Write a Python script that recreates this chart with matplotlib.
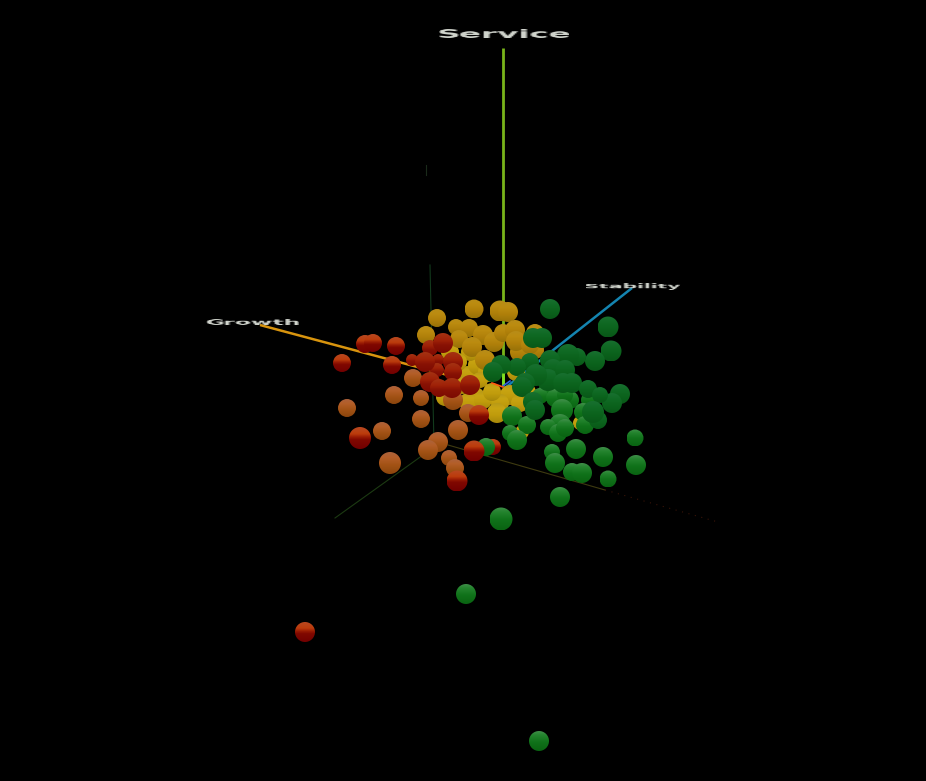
import numpy as np
import matplotlib
matplotlib.use("Agg")
import matplotlib.pyplot as plt
from matplotlib.colors import LinearSegmentedColormap
from matplotlib.patches import Circle

# Projected positions and sizes (x, y, radius in image pixels)
yellow_x = [468,478,488,480,475,468,483,510,500,520,497,522,580,450,462,445,470,492,528,516,458]
yellow_y = [375,365,372,380,397,402,400,395,403,403,413,432,423,352,385,397,352,392,392,372,362]
yellow_r = [9,10,10,8,10,9,9,10,9,9,10,7,7,9,9,9,9,9,8,9,9]

amber_x = [474,437,426,456,469,459,500,508,483,472,485,535,535,520,494,503,515,516,530]
amber_y = [309,318,335,327,328,339,311,312,335,347,360,333,350,352,342,333,330,341,345]
amber_r = [9.5,9,9,8,9,9,10.5,10,10,10,10,9,9,10,10,9,10,10,9]

orange_x = [394,421,347,421,382,458,438,428,390,449,455,453,468,413]
orange_y = [395,398,408,419,431,430,442,450,463,458,468,400,413,378]
orange_r = [9,8,9,9,9,10,10,10,11,8,9,10,9,9]

red_x = [365,373,396,342,392,479,360,493,457,305]
red_y = [344,343,346,363,365,415,438,447,481,632]
red_r = [9,9,9,9,9,10,11,8,10.5,10]

deep_red_x = [430,443,412,438,437,453,453,425,430,439,452,470]
deep_red_y = [348,343,360,360,370,362,372,362,382,388,388,385]
deep_red_r = [8,10,6,6,7,10,9,10,10,9,10,10]

light_green_x = [547,540,555,570,590,565,562,560,512,527,548,558,583,585,565,510,517,635,576,552,603,555,636,572,582,608,560,486,501,466,539]
light_green_y = [392,396,398,400,400,395,410,425,416,425,427,433,412,425,428,433,440,438,449,452,457,463,465,472,473,479,497,447,519,594,741]
light_green_r = [9,8,9,9,9,8,11,11,10,9,8,9,9,9,9,8,10,8.5,10,8,10,10,10,9,10,8.5,10,9,11.5,10,10]

dark_green_x = [550,608,611,595,533,542,577,568,550,530,553,548,517,501,493,536,565,563,572,525,522,588,620,612,600,533,535,598,593]
dark_green_y = [309,327,351,361,338,338,357,355,360,362,369,380,367,365,372,375,370,383,383,383,387,389,394,403,395,402,410,420,412]
dark_green_r = [10,10.5,10.5,10,10,10,9,11,10,9,10,11,9,10,10,11,10,10,10,10,10,9,10,10,8,10,10,9,11]

front_red_x = [474]
front_red_y = [451]
front_red_r = [10.5]

axis_names = ["Service", "Growth", "Stability"]
service_axis = ([503, 503], [48, 385])
growth_axis = ([260, 500], [325, 389])
stability_axis = ([632, 505], [288, 388])

W, H = 926, 781
fig = plt.figure(figsize=(W / 100, H / 100), dpi=100, facecolor="black")
ax = fig.add_axes([0, 0, 1, 1], facecolor="black")
ax.set_axis_off()

# Faint grid traces of the scene
for xs, ys, c, lw, ls in [
    ([335, 430], [518, 450], "#1c3a12", 0.8, "-"),
    ([430, 434], [265, 445], "#123a1c", 0.8, "-"),
    ([426, 426], [165, 175], "#1a2a1a", 0.8, "-"),
    ([448, 605], [445, 490], "#3e3a10", 0.8, "-"),
    ([605, 718], [490, 522], "#3a1408", 0.8, (0, (1, 5))),
]:
    ax.plot(xs, ys, color=c, lw=lw, ls=ls, zorder=1)

ax.plot(*service_axis, color="#79b41a", lw=2, zorder=2, solid_capstyle="butt")
ax.plot(*growth_axis, color="#d8940e", lw=1.8, zorder=2, solid_capstyle="butt")
ax.plot(*stability_axis, color="#1484b0", lw=1.8, zorder=2, solid_capstyle="butt")


def make_cmap(stops):
    return LinearSegmentedColormap.from_list("s", stops)


cm_yellow = make_cmap([(0, "#b89a18"), (.25, "#c8a412"), (.6, "#c09c0c"), (1, "#a8880a")])
cm_amber = make_cmap([(0, "#b88c18"), (.25, "#bc8c10"), (.6, "#b0800a"), (1, "#987208")])
cm_orange = make_cmap([(0, "#ac623a"), (.25, "#b45e28"), (.6, "#a25214"), (1, "#8c460e")])
cm_red = make_cmap([(0, "#b84820"), (.3, "#bc3c0c"), (.46, "#981a04"), (.58, "#800800"), (1, "#720000")])
cm_deep_red = make_cmap([(0, "#a43212"), (.35, "#a02208"), (.6, "#881204"), (1, "#7c0a02")])
cm_light_green = make_cmap([(0, "#3e8e48"), (.2, "#24842e"), (.55, "#10721a"), (1, "#0a6412")])
cm_dark_green = make_cmap([(0, "#187030"), (.3, "#106a24"), (.65, "#0b621c"), (1, "#095818")])
grad = np.linspace(0, 1, 32).reshape(-1, 1)
z = [10]


def spheres(xs, ys, rs, cmap):
    for x, y, r in zip(xs, ys, rs):
        im = ax.imshow(grad, cmap=cmap, vmin=0, vmax=1, extent=(x - r, x + r, y + r, y - r),
                       origin="upper", aspect="auto", interpolation="bilinear", zorder=z[0])
        c = Circle((x, y), r, transform=ax.transData, facecolor="none", edgecolor="none")
        ax.add_patch(c)
        im.set_clip_path(c)
        z[0] += 1


spheres(yellow_x, yellow_y, yellow_r, cm_yellow)
spheres(amber_x, amber_y, amber_r, cm_amber)
spheres(orange_x, orange_y, orange_r, cm_orange)
spheres(red_x, red_y, red_r, cm_red)
spheres(deep_red_x, deep_red_y, deep_red_r, cm_deep_red)
spheres(light_green_x, light_green_y, light_green_r, cm_light_green)
spheres(dark_green_x, dark_green_y, dark_green_r, cm_dark_green)
spheres(front_red_x, front_red_y, front_red_r, cm_red)

# Centre marker of the scene, visible through the gap in the cluster
ax.plot([503, 503], [373, 386], color="#7ee020", lw=2, zorder=400, solid_capstyle="butt")
ax.plot([503, 510], [386, 381], color="#3060e0", lw=1.2, zorder=400)
ax.plot([492, 503], [383, 387], color="#ff5a10", lw=1.2, zorder=400)

ax.set_xlim(0, W)
ax.set_ylim(H, 0)


def stretch(sx, sy):
    """agg filter: squashes the rendered label like a flat 3D sprite."""
    def f(img, dpi):
        h, w = img.shape[:2]
        nw, nh = int(w * sx), max(1, int(h * sy))
        xi = np.linspace(0, w - 1, nw)
        yi = np.linspace(0, h - 1, nh)
        x0 = np.floor(xi).astype(int); x1 = np.minimum(x0 + 1, w - 1); fx = (xi - x0)[None, :, None]
        y0 = np.floor(yi).astype(int); y1 = np.minimum(y0 + 1, h - 1); fy = (yi - y0)[:, None, None]
        a = img[y0][:, x0] * (1 - fx) + img[y0][:, x1] * fx
        b = img[y1][:, x0] * (1 - fx) + img[y1][:, x1] * fx
        out = a * (1 - fy) + b * fy
        return out, -(nw - w) / 2, -(nh - h) / 2
    return f


labels = [
    (axis_names[0], 503.5, 36, 15, 1.55, 0.62),
    (axis_names[1], 253, 324, 11, 1.53, 0.55),
    (axis_names[2], 633, 287, 10, 1.47, 0.55),
]
for s, x, y, fs, sx, sy in labels:
    t = ax.text(x, y, s, color="#d0d4cc", fontsize=fs, fontweight="bold",
                ha="center", va="center", family="DejaVu Sans", zorder=500)
    t.set_agg_filter(stretch(sx, sy))

fig.savefig("out.png", dpi=100, facecolor="black")
